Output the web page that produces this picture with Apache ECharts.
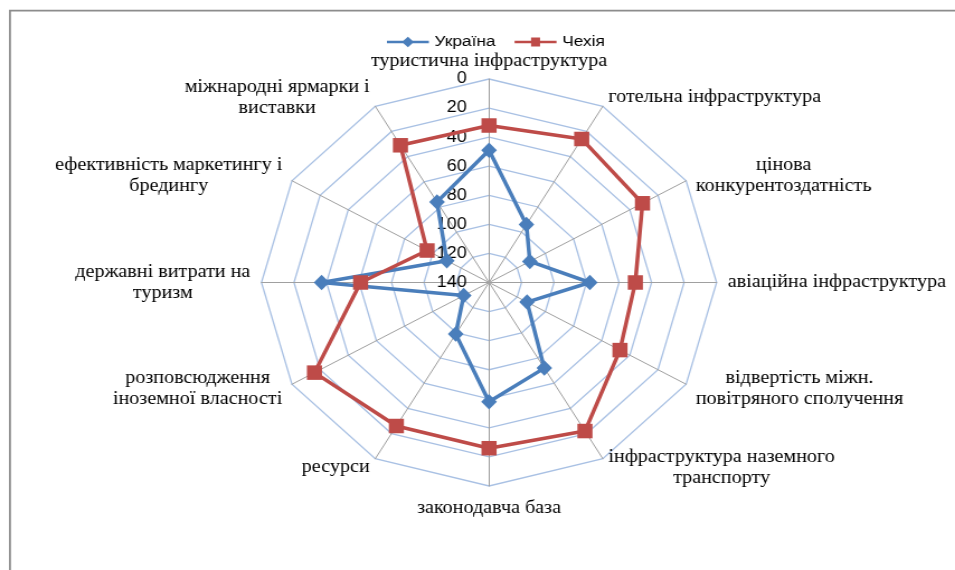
<!DOCTYPE html>
<html><head><meta charset="utf-8">
<script src="https://cdn.jsdelivr.net/npm/echarts@6/dist/echarts.min.js"></script>
<style>
html,body{margin:0;padding:0;background:#fff;overflow:hidden;}
#wrap{width:955px;height:570px;overflow:hidden;position:relative;background:#fff;}
#chart{width:854px;height:570px;transform:scaleX(1.1183);transform-origin:0 0;}
</style></head><body>
<div id="wrap"><div id="chart"></div></div>
<script>
// Indicators (clockwise from top)
const indicators = [
  'туристична інфраструктура',
  'готельна інфраструктура',
  'цінова\nконкурентоздатність',
  'авіаційна інфраструктура',
  'відвертість міжн.\nповітряного сполучення',
  'інфраструктура наземного\nтранспорту',
  'законодавча база',
  'ресурси',
  'розповсюдження\nіноземної власності',
  'державні витрати на\nтуризм',
  'ефективність маркетингу і\nбредингу',
  'міжнародні ярмарки і\nвиставки'
];
// Ranks (axis is inverted: 0 at the outer ring, 140 at the centre)
const ukraine = [49, 94, 111, 78, 113, 72, 58, 99, 122, 37, 110, 76];
const czech   = [32, 26, 31, 50, 47, 22, 26, 26, 16, 61, 96, 31];
const seriesNames = ['Україна', 'Чехія'];
const axisMax = 140;
const tickStep = 20;

const blue = '#4A7EBB', red = '#BE4B48';
const serif = 'Liberation Serif';
const sans = 'Liberation Sans';

// ECharts lays radar indicators counter-clockwise; reorder so they run clockwise
const order = [0].concat(indicators.map((_, i) => i).slice(1).reverse());

const chart = echarts.init(document.getElementById('chart'), null, {renderer: 'canvas'});

const indicatorOpts = order.map((idx, k) => {
  const o = {name: indicators[idx], min: -axisMax, max: 0};
  if (k === 0) {
    o.axisLabel = {
      show: true, showMinLabel: true, showMaxLabel: true,
      margin: 20, color: '#000', fontFamily: sans, fontSize: 16,
      formatter: v => String(Math.abs(v))
    };
  }
  return o;
});

const topName = indicators[0], bottomName = indicators[6];

chart.setOption({
  animation: false,
  backgroundColor: '#fff',
  graphic: [{
    type: 'rect', silent: true,
    shape: {x: 8.9, y: 10.7, width: 2000, height: 2000},
    style: {fill: 'none', stroke: '#8c8c8c', lineWidth: 1.8}
  }],
  legend: {
    left: 341, top: 29,
    itemWidth: 37.5, itemHeight: 12, itemGap: 17,
    selectedMode: false,
    textStyle: {fontFamily: sans, fontSize: 15.5, color: '#000'},
    data: [
      {name: seriesNames[0], icon: 'path://M0,4.6 H16.4 L21,0 L25.6,4.6 H42 V7.4 H25.6 L21,12 L16.4,7.4 H0 Z', itemStyle: {color: blue}},
      {name: seriesNames[1], icon: 'path://M0,4.6 H16.5 V1 H25.5 V4.6 H42 V7.4 H25.5 V11 H16.5 V7.4 H0 Z', itemStyle: {color: red}}
    ]
  },
  radar: {
    center: [437.3, 282.5],
    radius: 203.5,
    startAngle: 90,
    splitNumber: axisMax / tickStep,
    shape: 'polygon',
    nameGap: 10,
    axisName: {
      color: '#000',
      fontFamily: serif, fontSize: 18,
      formatter: name => {
        const st = name === topName ? 't' : (name === bottomName ? 'b' : 'c');
        return name.split('\n').map(s => '{' + st + '|' + s + '}').join('\n');
      },
      rich: {
        c: {align: 'center', fontFamily: serif, fontSize: 18, lineHeight: 21, color: '#000'},
        t: {align: 'center', fontFamily: serif, fontSize: 18, lineHeight: 16, color: '#000'},
        b: {align: 'center', fontFamily: serif, fontSize: 18, lineHeight: 24, color: '#000'}
      }
    },
    splitLine: {lineStyle: {color: '#A9C1E4', width: 1.3}},
    splitArea: {show: false},
    axisLine: {lineStyle: {color: '#A0A0A0', width: 1}},
    axisTick: {show: false},
    axisLabel: {show: false},
    indicator: indicatorOpts
  },
  series: [{
    type: 'radar',
    data: [
      {
        name: seriesNames[0], value: order.map(i => -ukraine[i]),
        symbol: 'diamond', symbolSize: [14, 15.5],
        lineStyle: {color: blue, width: 3.5},
        itemStyle: {color: blue}
      },
      {
        name: seriesNames[1], value: order.map(i => -czech[i]),
        symbol: 'rect', symbolSize: [13.5, 14.5],
        lineStyle: {color: red, width: 3.5},
        itemStyle: {color: red}
      }
    ]
  }]
});
</script>
</body></html>
